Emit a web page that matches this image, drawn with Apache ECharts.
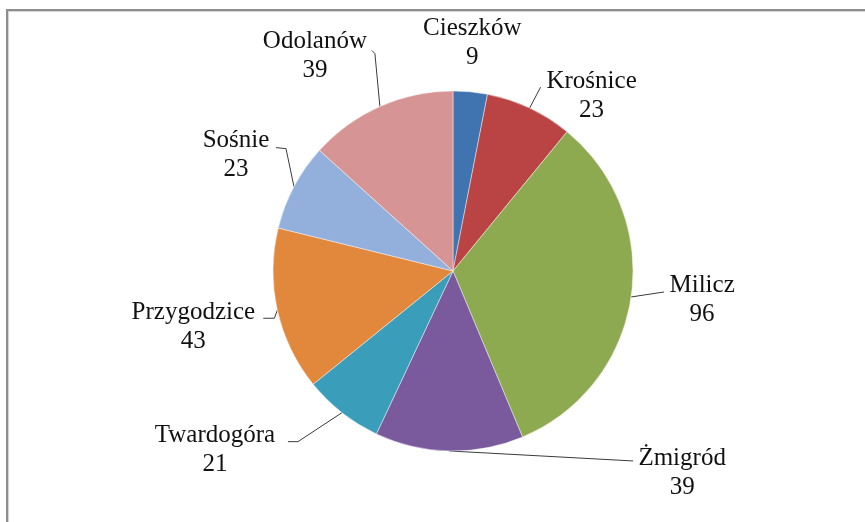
<!DOCTYPE html>
<html>
<head>
<meta charset="utf-8">
<script src="https://cdn.jsdelivr.net/npm/echarts@6/dist/echarts.min.js"></script>
<style>
  html, body { margin: 0; padding: 0; background: #fff; }
  #wrap { position: relative; width: 865px; height: 522px; overflow: hidden; }
  #frameTop { position: absolute; left: 6px; top: 9px; width: 859px; height: 2px; background: #8e8e8e; }
  #frameTop2 { position: absolute; left: 8px; top: 11px; width: 857px; height: 1px; background: #d4d4d4; }
  #frameLeft { position: absolute; left: 6px; top: 9px; width: 2px; height: 513px; background: #8e8e8e; }
  #frameLeft2 { position: absolute; left: 8px; top: 11px; width: 1px; height: 511px; background: #d4d4d4; }
  #chart { position: absolute; left: 0; top: 0; width: 865px; height: 522px; }
</style>
</head>
<body>
<div id="wrap">
  <div id="frameTop"></div><div id="frameTop2"></div>
  <div id="frameLeft"></div><div id="frameLeft2"></div>
  <div id="chart"></div>
</div>
<script>
// ---- data ----
const categories = ['Cieszków', 'Krośnice', 'Milicz', 'Żmigród', 'Twardogóra', 'Przygodzice', 'Sośnie', 'Odolanów'];
const values = [9, 23, 96, 39, 21, 43, 23, 39];

// ---- styles ----
const sliceColors = ['#3F74B1', '#B94443', '#8EAA50', '#7A5A9C', '#3A9DBA', '#E2883C', '#93AFDC', '#D69594'];
// label placement relative to the slice's outer anchor point (Excel-like "best fit")
// label: [dx, dy] of label block centre; bend / end: leader line points (null = no line)
const labelPlacement = [
  { label: [2, -49],   bend: null,      end: null },
  { label: [62, -12],  bend: [11, -21], end: [11, -21] },
  { label: [71, 3],    bend: [33, -5],  end: [33, -5] },
  { label: [233, 22],  bend: [184, 10], end: [184, 10] },
  { label: [-127, 37], bend: [-44, 29], end: [-54, 29] },
  { label: [-84, 17],  bend: [-3, 8],   end: [-14, 8] },
  { label: [-58, -32], bend: [-8, -38], end: [-18, -39] },
  { label: [-65, -51], bend: [-5, -53], end: [-8, -56] }
];

const chart = echarts.init(document.getElementById('chart'), null, { renderer: 'canvas' });

const seriesData = categories.map((name, i) => ({
  name: name,
  value: values[i],
  itemStyle: { color: sliceColors[i] }
}));

chart.setOption({
  animation: false,
  series: [{
    type: 'pie',
    center: [453, 271],
    radius: 180,
    startAngle: 90,
    clockwise: true,
    avoidLabelOverlap: false,
    itemStyle: { borderColor: 'rgba(255,255,255,0.55)', borderWidth: 0.8 },
    label: {
      show: true,
      position: 'outside',
      formatter: '{b}\n{c}',
      fontFamily: 'Liberation Serif',
      fontSize: 25,
      lineHeight: 29,
      color: '#111'
    },
    labelLine: {
      show: true,
      length: 10,
      length2: 10,
      lineStyle: { color: '#3a3a3a', width: 1 }
    },
    emphasis: { disabled: true },
    labelLayout: function (params) {
      const p = labelPlacement[params.dataIndex];
      const pts = params.labelLinePoints;
      const a = pts ? pts[0] : [0, 0];
      const res = {
        x: a[0] + p.label[0],
        y: a[1] + p.label[1],
        align: 'center',
        verticalAlign: 'middle'
      };
      if (p.bend) {
        res.labelLinePoints = [
          [a[0], a[1]],
          [a[0] + p.bend[0], a[1] + p.bend[1]],
          [a[0] + p.end[0], a[1] + p.end[1]]
        ];
      } else {
        res.labelLinePoints = [[a[0], a[1]], [a[0], a[1]], [a[0], a[1]]];
      }
      return res;
    },
    data: seriesData
  }]
});
</script>
</body>
</html>
